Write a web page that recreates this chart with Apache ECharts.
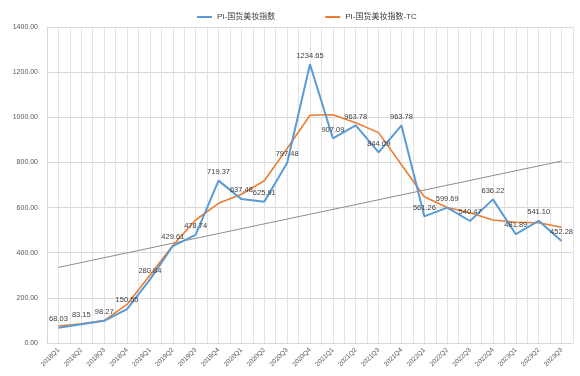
<!DOCTYPE html>
<html>
<head>
<meta charset="utf-8">
<script src="https://cdn.jsdelivr.net/npm/echarts@6/dist/echarts.min.js"></script>
<style>
  html, body { margin: 0; padding: 0; background: #fff; }
  #main { width: 580px; height: 376px; }
</style>
</head>
<body>
<div id="main"></div>
<script>
// категории по кварталам
const quarters = ['2018Q1','2018Q2','2018Q3','2018Q4','2019Q1','2019Q2','2019Q3','2019Q4',
  '2020Q1','2020Q2','2020Q3','2020Q4','2021Q1','2021Q2','2021Q3','2021Q4',
  '2022Q1','2022Q2','2022Q3','2022Q4','2023Q1','2023Q2','2023Q3'];

const indexValues = [68.03, 83.15, 98.27, 150.55, 280.84, 429.61, 478.74, 719.37,
  637.48, 625.91, 797.48, 1234.65, 907.09, 963.78, 844.09, 963.78,
  561.26, 599.69, 540.47, 636.22, 481.89, 541.10, 452.28];

const tcValues = [75, 85, 99, 171, 300, 432, 545, 619,
  659, 719, 862, 1009, 1011, 976, 932, 790,
  648, 600, 577, 545, 535, 533, 513];

// линия тренда: только начало и конец
const trendValues = [335, null, null, null, null, null, null, null, null, null, null, null,
  null, null, null, null, null, null, null, null, null, null, 806];

const yTicks = [0, 1400, 200];

let chart = echarts.init(document.getElementById('main'));

chart.setOption({
  animation: false,
  textStyle: { fontFamily: 'Liberation Sans, Noto Sans CJK SC, sans-serif' },
  legend: {
    top: 8,
    left: 192,
    itemGap: 50,
    itemWidth: 15,
    itemHeight: 2,
    icon: 'rect',
    textStyle: { fontSize: 8, color: '#404040' },
    data: ['PI-国货美妆指数', 'PI-国货美妆指数-TC']
  },
  grid: { left: 47, right: 7, top: 27, bottom: 33 },
  xAxis: [
    {
      type: 'category',
      data: quarters,
      boundaryGap: true,
      axisLine: { lineStyle: { color: '#D9D9D9' } },
      axisTick: { show: false },
      axisLabel: { rotate: 45, fontSize: 6.5, color: '#595959', margin: 6, interval: 0 },
      splitLine: { show: true, interval: 0, lineStyle: { color: '#E3E3E3' } }
    },
    {
      type: 'value',
      min: 0, max: 46, interval: 1,
      position: 'bottom',
      axisLine: { show: false },
      axisTick: { show: false },
      axisLabel: { show: false },
      splitLine: { show: true, lineStyle: { color: '#E3E3E3' } }
    }
  ],
  yAxis: {
    type: 'value',
    min: yTicks[0], max: yTicks[1], interval: yTicks[2],
    axisLine: { show: true, lineStyle: { color: '#D9D9D9' } },
    axisTick: { show: false },
    axisLabel: { fontSize: 7, color: '#595959', margin: 9, formatter: v => v.toFixed(2) },
    splitLine: { lineStyle: { color: '#D9D9D9' } }
  },
  series: [
    {
      name: 'trend',
      type: 'line',
      data: trendValues,
      connectNulls: true,
      symbol: 'none',
      lineStyle: { color: '#8C8C8C', width: 1 },
      z: 1
    },
    {
      name: 'PI-国货美妆指数',
      type: 'line',
      data: indexValues,
      symbol: 'circle',
      symbolSize: 0.1,
      showSymbol: true,
      color: '#5B9BD5',
      lineStyle: { color: '#5B9BD5', width: 2 },
      label: {
        show: true, position: 'top', distance: 5,
        fontSize: 7.5, color: '#404040',
        formatter: p => p.value.toFixed(2)
      },
      labelLayout: { hideOverlap: false },
      z: 3
    },
    {
      name: 'PI-国货美妆指数-TC',
      type: 'line',
      data: tcValues,
      symbol: 'none',
      color: '#ED7D31',
      lineStyle: { color: '#ED7D31', width: 1.6 },
      z: 2
    }
  ]
});
</script>
</body>
</html>
